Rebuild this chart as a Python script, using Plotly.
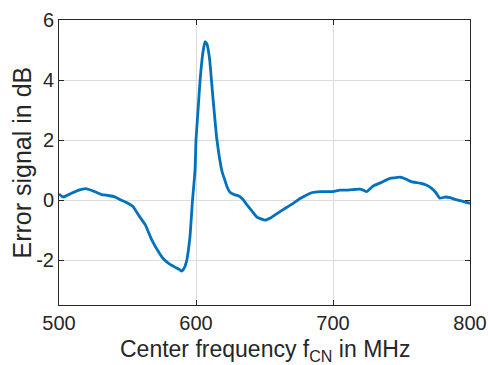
import plotly.graph_objects as go

freq_mhz = [500, 503, 508, 514, 519.5, 525, 531, 536, 541, 546, 550, 554, 558, 563,
            567.7, 572.5, 576, 580, 584, 588.3, 589.5, 591, 593, 595.6, 597.3, 599.3,
            600, 601.5, 603, 605, 606.6, 608, 610, 612, 613.4, 615, 617, 619, 621,
            623, 624.8, 628, 631, 634, 637, 641, 644.3, 647, 650.4, 655, 661.3, 666,
            671, 676, 680.8, 685, 690.5, 695, 700, 705, 711, 716, 719.7, 722, 724.6,
            729.4, 735, 741.6, 745, 749, 753, 757, 763.5, 768, 772, 775, 778, 782,
            785.4, 789, 792.7, 796, 800]
error_db = [0.20, 0.10, 0.20, 0.32, 0.38, 0.30, 0.18, 0.15, 0.10, -0.02, -0.10, -0.22,
            -0.50, -0.83, -1.33, -1.72, -1.95, -2.11, -2.22, -2.33, -2.37, -2.30, -2.06,
            -1.22, -0.10, 1.00, 2.00, 3.00, 4.00, 4.90, 5.28, 5.20, 4.67, 3.60, 2.89,
            2.10, 1.44, 0.95, 0.67, 0.40, 0.26, 0.18, 0.14, 0.03, -0.15, -0.38, -0.56,
            -0.62, -0.67, -0.58, -0.39, -0.25, -0.11, 0.05, 0.17, 0.25, 0.28, 0.28,
            0.28, 0.33, 0.33, 0.35, 0.36, 0.33, 0.28, 0.47, 0.58, 0.72, 0.74, 0.76,
            0.70, 0.61, 0.56, 0.50, 0.39, 0.25, 0.06, 0.10, 0.08, 0.02, -0.02, -0.06,
            -0.11]

x_ticks = [500, 600, 700, 800]
y_ticks = [-2, 0, 2, 4, 6]
y_tick_labels = ["-2", "0", "2", "4", "6"]

FONT = "Liberation Sans, Arial"
TXT = "#262626"

fig = go.Figure()
fig.add_trace(go.Scatter(x=freq_mhz, y=error_db, mode="lines",
                         line=dict(color="#0072BD", width=2.8, shape="spline", smoothing=0.4),
                         showlegend=False))

axis_common = dict(showline=True, linecolor=TXT, linewidth=1, mirror="allticks",
                   ticks="inside", ticklen=5, tickcolor=TXT, automargin=False,
                   showgrid=True, gridcolor="#dcdcdc", gridwidth=1, zeroline=False,
                   tickfont=dict(family=FONT, size=20, color=TXT))

fig.update_layout(
    width=488, height=365,
    margin=dict(l=59, r=18, t=20, b=60),
    plot_bgcolor="white", paper_bgcolor="white",
    xaxis=dict(range=[500, 800], tickvals=x_ticks, **axis_common),
    yaxis=dict(range=[-3.5, 6], tickvals=y_ticks, ticktext=y_tick_labels, **axis_common),
    annotations=[
        dict(text="Center frequency f<sub>CN</sub> in MHz", xref="paper", yref="paper",
             x=0.5, y=0, xanchor="center", yanchor="middle", yshift=-45, showarrow=False,
             font=dict(family=FONT, size=23, color=TXT)),
        dict(text="Error signal in dB", xref="paper", yref="paper", textangle=-90,
             x=0, y=0.5, xanchor="center", yanchor="middle", xshift=-38, showarrow=False,
             font=dict(family=FONT, size=25, color=TXT)),
    ],
)

fig.write_html("out.html")
